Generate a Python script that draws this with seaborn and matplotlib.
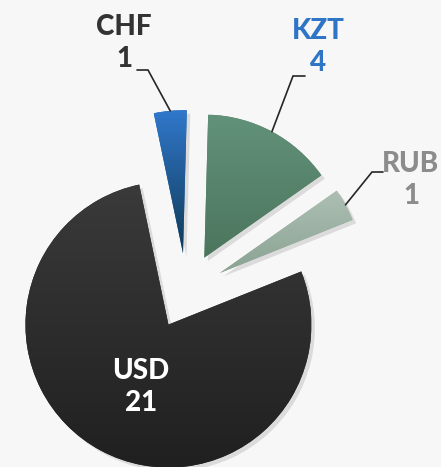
import numpy as np
import matplotlib
matplotlib.use('Agg')
import matplotlib.pyplot as plt
import seaborn as sns

# ---- data ----
currencies = ['CHF', 'KZT', 'RUB', 'USD']
counts = [1, 4, 1, 21]
label_colors = ['#333333', '#2e75c6', '#8c8c8c', '#ffffff']
base_colors = ['#2a66ad', '#578469', '#9db1a4', '#2e2e2e']
grad_top = ['#3178cc', '#62917a', '#adbfb3', '#3a3a3a']
grad_bottom = ['#0f3a55', '#4c755d', '#8aa393', '#202020']

sns.set_style('white')
plt.rcParams['font.family'] = ['Lato', 'DejaVu Sans']

W, H = 441, 467
BG = '#f7f7f7'
fig = plt.figure(figsize=(W / 100, H / 100), dpi=100, facecolor=BG)
ax = fig.add_axes([0, 0, 1, 1])
ax.set_facecolor(BG)

center = (186.4, H - 291.1)
radius = 143
explode_px = 38
wedges, _ = ax.pie(counts, colors=base_colors, startangle=101.8, counterclock=False,
                   explode=[explode_px] * len(counts), radius=radius, center=center,
                   wedgeprops=dict(linewidth=0),
                   shadow=dict(ox=2.5, oy=-2.5, facecolor='#d4d4d4', edgecolor='#e0e0e0',
                               alpha=0.8))

# gradients clipped to each wedge
for w, top, bot in zip(wedges, grad_top, grad_bottom):
    cmap = sns.blend_palette([top, bot], n_colors=256, as_cmap=True)
    ext = w.get_path().get_extents()
    im = ax.imshow(np.linspace(0, 1, 256)[:, None], cmap=cmap, origin='upper',
                   extent=(ext.x0, ext.x1, ext.y0, ext.y1), aspect='auto', zorder=1.5)
    im.set_clip_path(w)

# leader lines and labels
elbows = {'CHF': ((148, 70), (137, 70)),
          'KZT': ((293, 76), (305, 76)),
          'RUB': ((372, 172), (383, 172))}
label_pos = {'CHF': (124, 43), 'KZT': (318, 47), 'RUB': (411, 180), 'USD': (141, 387)}

for w, name, val, col in zip(wedges, currencies, counts, label_colors):
    if name in elbows:
        mid = np.deg2rad((w.theta1 + w.theta2) / 2)
        p0 = (w.center[0] + w.r * np.cos(mid), w.center[1] + w.r * np.sin(mid))
        (ex, ey), (hx, hy) = elbows[name]
        ax.plot([p0[0], ex, hx], [p0[1], H - ey, H - hy], color='#262626', lw=1.2,
                solid_joinstyle='miter', zorder=3)
    tx, ty = label_pos[name]
    ax.text(tx, H - ty, f'{name}\n{val}', ha='center', va='center', multialignment='center',
            fontsize=20, fontweight='black', color=col, linespacing=1.3, zorder=4)

ax.set_xlim(0, W)
ax.set_ylim(0, H)
ax.set_aspect('equal')
ax.axis('off')

fig.savefig('out.png', dpi=100, facecolor=BG)
